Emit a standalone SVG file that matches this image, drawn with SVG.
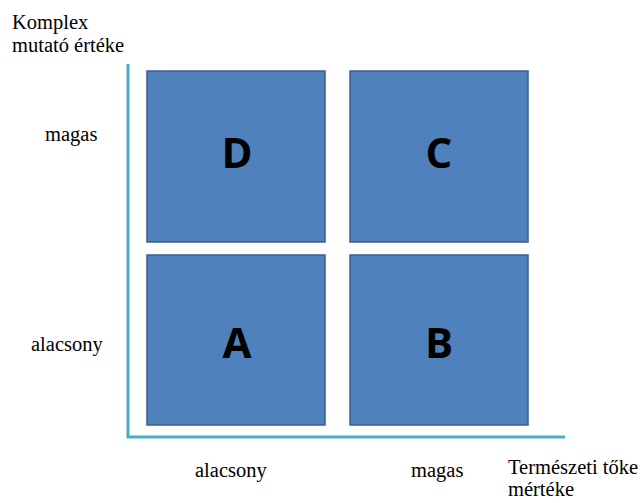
<svg xmlns="http://www.w3.org/2000/svg" width="643" height="503" viewBox="0 0 643 503">
<style>
.box{fill:#4f81bd;stroke:#3a5f8f;stroke-width:1.5}
.ax{stroke:#4bacc6;stroke-width:3;fill:none}
.lab{font-family:"Liberation Serif",serif;font-size:20.5px;fill:#000}
.let{font-family:"Open Sans","Liberation Sans",sans-serif;font-weight:bold;font-size:42px;fill:#000;text-anchor:middle}
</style>
<rect width="643" height="503" fill="#fff"/>
<g id="connectors">
<path class="ax" d="M128,64 V437 H565"/>
</g>
<g id="D"><rect class="box" x="147" y="71" width="178" height="171"/><text class="let" x="237" y="168">D</text></g>
<g id="C"><rect class="box" x="350" y="71" width="178" height="171"/><text class="let" x="439" y="168">C</text></g>
<g id="A"><rect class="box" x="147" y="255" width="178" height="170"/><text class="let" x="237" y="358">A</text></g>
<g id="B"><rect class="box" x="350" y="255" width="178" height="170"/><text class="let" x="439" y="358">B</text></g>
<g id="labels">
<text class="lab" x="12" y="29">Komplex</text>
<text class="lab" x="12" y="52">mutató értéke</text>
<text class="lab" x="45" y="141">magas</text>
<text class="lab" x="31" y="351">alacsony</text>
<text class="lab" x="195" y="477">alacsony</text>
<text class="lab" x="411" y="477">magas</text>
<text class="lab" x="508" y="474">Természeti tőke</text>
<text class="lab" x="508" y="496">mértéke</text>
</g>
</svg>
